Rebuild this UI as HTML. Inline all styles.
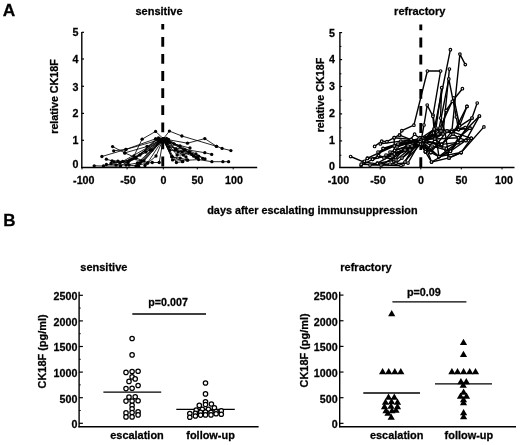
<!DOCTYPE html><html><head><meta charset="utf-8"><style>html,body{margin:0;padding:0;background:#fff;}svg{display:block;will-change:transform;}text{font-family:"Liberation Sans", sans-serif;font-weight:bold;fill:#000;stroke:#000;stroke-width:0.26px;}</style></head><body>
<svg width="520" height="445" viewBox="0 0 520 445">
<rect width="520" height="445" fill="#fff"/>
<text x="2.8" y="16.3" font-size="17.3" text-anchor="start" >A</text>
<text x="3.2" y="225.8" font-size="17.0" text-anchor="start" >B</text>
<text x="159" y="15.0" font-size="11" text-anchor="middle" >sensitive</text>
<text x="419.8" y="15.0" font-size="11" text-anchor="middle" >refractory</text>
<text x="312.4" y="213.6" font-size="10.85" text-anchor="middle" >days after escalating immunsuppression</text>
<line x1="81.8" y1="32" x2="81.8" y2="167.9" stroke="#000" stroke-width="1.4" />
<line x1="81.8" y1="32.3" x2="84.0" y2="32.3" stroke="#000" stroke-width="1.2" />
<line x1="81.8" y1="59" x2="84.0" y2="59" stroke="#000" stroke-width="1.2" />
<line x1="81.8" y1="86.3" x2="84.0" y2="86.3" stroke="#000" stroke-width="1.2" />
<line x1="81.8" y1="113.4" x2="84.0" y2="113.4" stroke="#000" stroke-width="1.2" />
<line x1="81.8" y1="140.3" x2="84.0" y2="140.3" stroke="#000" stroke-width="1.2" />
<text x="78.4" y="35.9" font-size="10.7" text-anchor="end" >5</text>
<text x="78.4" y="62.8" font-size="10.7" text-anchor="end" >4</text>
<text x="78.4" y="90.5" font-size="10.7" text-anchor="end" >3</text>
<text x="78.4" y="117.30000000000001" font-size="10.7" text-anchor="end" >2</text>
<text x="78.4" y="144.35" font-size="10.7" text-anchor="end" >1</text>
<text x="78.4" y="167.9" font-size="10.7" text-anchor="end" >0</text>
<line x1="81.1" y1="167.5" x2="257.2" y2="167.5" stroke="#000" stroke-width="1.35" />
<line x1="82.0" y1="167.5" x2="82.0" y2="169.4" stroke="#000" stroke-width="1" />
<line x1="127.1" y1="167.5" x2="127.1" y2="169.4" stroke="#000" stroke-width="1" />
<line x1="163.3" y1="167.5" x2="163.3" y2="169.4" stroke="#000" stroke-width="1" />
<line x1="197.3" y1="167.5" x2="197.3" y2="169.4" stroke="#000" stroke-width="1" />
<line x1="233.2" y1="167.5" x2="233.2" y2="169.4" stroke="#000" stroke-width="1" />
<text x="83.8" y="183.6" font-size="10.7" text-anchor="middle" >-100</text>
<text x="128" y="183.6" font-size="10.7" text-anchor="middle" >-50</text>
<text x="163.5" y="183.6" font-size="10.7" text-anchor="middle" >0</text>
<text x="197.5" y="183.6" font-size="10.7" text-anchor="middle" >50</text>
<text x="234" y="183.6" font-size="10.7" text-anchor="middle" >100</text>
<text transform="translate(57.8,96.45) rotate(-90)" font-size="10.75" text-anchor="middle">relative CK18F</text>
<line x1="339.9" y1="32" x2="339.9" y2="167.9" stroke="#000" stroke-width="1.4" />
<line x1="339.9" y1="32.6" x2="342.09999999999997" y2="32.6" stroke="#000" stroke-width="1.2" />
<line x1="339.9" y1="59.6" x2="342.09999999999997" y2="59.6" stroke="#000" stroke-width="1.2" />
<line x1="339.9" y1="86.5" x2="342.09999999999997" y2="86.5" stroke="#000" stroke-width="1.2" />
<line x1="339.9" y1="113.9" x2="342.09999999999997" y2="113.9" stroke="#000" stroke-width="1.2" />
<line x1="339.9" y1="140.9" x2="342.09999999999997" y2="140.9" stroke="#000" stroke-width="1.2" />
<line x1="339.9" y1="46.4" x2="341.4" y2="46.4" stroke="#000" stroke-width="1" />
<line x1="339.9" y1="73.8" x2="341.4" y2="73.8" stroke="#000" stroke-width="1" />
<line x1="339.9" y1="100.2" x2="341.4" y2="100.2" stroke="#000" stroke-width="1" />
<line x1="339.9" y1="127.8" x2="341.4" y2="127.8" stroke="#000" stroke-width="1" />
<line x1="339.9" y1="155.3" x2="341.4" y2="155.3" stroke="#000" stroke-width="1" />
<text x="335.0" y="37.199999999999996" font-size="10.7" text-anchor="end" >5</text>
<text x="335.0" y="63.199999999999996" font-size="10.7" text-anchor="end" >4</text>
<text x="335.0" y="89.5" font-size="10.7" text-anchor="end" >3</text>
<text x="335.0" y="116.60000000000001" font-size="10.7" text-anchor="end" >2</text>
<text x="335.0" y="144.3" font-size="10.7" text-anchor="end" >1</text>
<text x="335.0" y="170.20000000000002" font-size="10.7" text-anchor="end" >0</text>
<line x1="339.2" y1="167.5" x2="514.5" y2="167.5" stroke="#000" stroke-width="1.35" />
<line x1="380.2" y1="167.5" x2="380.2" y2="169.4" stroke="#000" stroke-width="1" />
<line x1="420.8" y1="167.5" x2="420.8" y2="169.4" stroke="#000" stroke-width="1" />
<line x1="461.3" y1="167.5" x2="461.3" y2="169.4" stroke="#000" stroke-width="1" />
<line x1="502" y1="167.5" x2="502" y2="169.4" stroke="#000" stroke-width="1" />
<text x="338.4" y="183.6" font-size="10.7" text-anchor="middle" >-100</text>
<text x="378" y="183.6" font-size="10.7" text-anchor="middle" >-50</text>
<text x="421" y="183.6" font-size="10.7" text-anchor="middle" >0</text>
<text x="461.5" y="183.6" font-size="10.7" text-anchor="middle" >50</text>
<text x="504" y="183.6" font-size="10.7" text-anchor="middle" >100</text>
<text transform="translate(324.3,95.0) rotate(-90)" font-size="10.75" text-anchor="middle">relative CK18F</text>
<line x1="162.75" y1="23.9" x2="162.75" y2="167.5" stroke="#000" stroke-width="2.9" stroke-dasharray="9.8 7.3" stroke-dashoffset="4.10"/>
<line x1="420.8" y1="24.6" x2="420.8" y2="167.5" stroke="#000" stroke-width="2.9" stroke-dasharray="9.8 7.3" stroke-dashoffset="4.10"/>
<polyline points="134.0,156.0 142.1,139.2 155.6,131.4 163.3,138.8 169.4,131.1 181.9,136.0 216.5,146.3 222.1,148.4 230.9,150.6" fill="none" stroke="#000" stroke-width="0.85" stroke-linejoin="round"/>
<polyline points="112.6,146.6 124.8,152.9 147.0,146.5 163.3,138.8 187.5,143.2 204.8,138.6 216.5,146.3" fill="none" stroke="#000" stroke-width="0.85" stroke-linejoin="round"/>
<polyline points="113.7,150.8 125.9,149.4 163.3,138.8 169.0,146.9 204.8,152.7 211.7,154.4" fill="none" stroke="#000" stroke-width="0.85" stroke-linejoin="round"/>
<polyline points="101.9,156.5 125.9,149.4 155.6,138.8 163.3,138.8" fill="none" stroke="#000" stroke-width="0.85" stroke-linejoin="round"/>
<polyline points="106.4,159.2 112.1,160.9 117.9,161.1 122.7,161.4 163.3,138.8 189.1,152.1 198.6,156.1 202.7,158.4" fill="none" stroke="#000" stroke-width="0.85" stroke-linejoin="round"/>
<polyline points="94.2,165.8 103.5,166.0 120.6,166.0 163.3,138.8 176.4,162.5 182.5,161.7" fill="none" stroke="#000" stroke-width="0.85" stroke-linejoin="round"/>
<polyline points="106.4,164.5 129.0,165.1 138.6,166.2 163.3,138.8 172.6,159.9 187.7,160.2 198.6,159.6 211.9,161.7 222.9,161.7 228.6,161.7" fill="none" stroke="#000" stroke-width="0.85" stroke-linejoin="round"/>
<polyline points="124.8,152.9 147.6,163.0 152.3,162.5 159.2,162.5 163.3,138.8" fill="none" stroke="#000" stroke-width="0.85" stroke-linejoin="round"/>
<polyline points="132.2,159.0 141.7,160.9 163.3,138.8 171.7,156.8 180.2,158.1 187.0,159.9" fill="none" stroke="#000" stroke-width="0.85" stroke-linejoin="round"/>
<polyline points="137.6,165.3 147.5,163.0 163.3,138.8 177.1,155.0 183.4,155.0 189.7,152.3" fill="none" stroke="#000" stroke-width="0.85" stroke-linejoin="round"/>
<polyline points="120.0,163.0 136.0,158.0 158.5,138.0 163.3,138.8 166.5,138.5 175.0,150.0 193.7,156.2" fill="none" stroke="#000" stroke-width="0.85" stroke-linejoin="round"/>
<polyline points="128.0,162.0 146.0,152.0 161.5,140.5 168.5,139.5 185.0,150.0 198.0,158.0" fill="none" stroke="#000" stroke-width="0.85" stroke-linejoin="round"/>
<polyline points="116.0,165.0 140.0,155.0 155.8,138.8 163.3,140.5 172.1,156.4 182.8,161.4" fill="none" stroke="#000" stroke-width="0.85" stroke-linejoin="round"/>
<polyline points="140.0,163.0 152.0,150.0 163.3,138.8 180.0,146.0 196.0,154.0 205.0,159.0" fill="none" stroke="#000" stroke-width="0.85" stroke-linejoin="round"/>
<polyline points="145.0,165.5 156.0,156.0 163.3,138.8 170.0,150.0 182.0,152.0" fill="none" stroke="#000" stroke-width="0.85" stroke-linejoin="round"/>
<polyline points="111.0,163.5 130.0,160.0 150.0,150.0 163.3,138.8 174.0,144.0 190.0,148.0" fill="none" stroke="#000" stroke-width="0.85" stroke-linejoin="round"/>
<polyline points="114.0,162.0 128.0,162.5 163.3,138.8" fill="none" stroke="#000" stroke-width="0.85" stroke-linejoin="round"/>
<polyline points="126.0,165.0 137.5,163.0 163.3,138.8" fill="none" stroke="#000" stroke-width="0.85" stroke-linejoin="round"/>
<polyline points="136.0,166.0 144.0,161.0 163.3,138.8" fill="none" stroke="#000" stroke-width="0.85" stroke-linejoin="round"/>
<polyline points="160.5,139.2 165.5,139.8 168.0,141.0 184.0,150.0 196.0,157.5" fill="none" stroke="#000" stroke-width="0.85" stroke-linejoin="round"/>
<polyline points="158.0,140.5 166.0,141.5 169.5,142.5 178.0,152.0 186.0,157.0" fill="none" stroke="#000" stroke-width="0.85" stroke-linejoin="round"/>
<polyline points="161.0,142.0 167.0,143.5 176.0,149.0 192.0,154.5" fill="none" stroke="#000" stroke-width="0.85" stroke-linejoin="round"/>
<circle cx="134.0" cy="156.0" r="1.65" fill="#000"/>
<circle cx="142.1" cy="139.2" r="1.65" fill="#000"/>
<circle cx="155.6" cy="131.4" r="1.65" fill="#000"/>
<circle cx="163.3" cy="138.8" r="1.65" fill="#000"/>
<circle cx="169.4" cy="131.1" r="1.65" fill="#000"/>
<circle cx="181.9" cy="136.0" r="1.65" fill="#000"/>
<circle cx="216.5" cy="146.3" r="1.65" fill="#000"/>
<circle cx="222.1" cy="148.4" r="1.65" fill="#000"/>
<circle cx="230.9" cy="150.6" r="1.65" fill="#000"/>
<circle cx="112.6" cy="146.6" r="1.65" fill="#000"/>
<circle cx="124.8" cy="152.9" r="1.65" fill="#000"/>
<circle cx="147.0" cy="146.5" r="1.65" fill="#000"/>
<circle cx="163.3" cy="138.8" r="1.65" fill="#000"/>
<circle cx="187.5" cy="143.2" r="1.65" fill="#000"/>
<circle cx="204.8" cy="138.6" r="1.65" fill="#000"/>
<circle cx="216.5" cy="146.3" r="1.65" fill="#000"/>
<circle cx="113.7" cy="150.8" r="1.65" fill="#000"/>
<circle cx="125.9" cy="149.4" r="1.65" fill="#000"/>
<circle cx="163.3" cy="138.8" r="1.65" fill="#000"/>
<circle cx="169.0" cy="146.9" r="1.65" fill="#000"/>
<circle cx="204.8" cy="152.7" r="1.65" fill="#000"/>
<circle cx="211.7" cy="154.4" r="1.65" fill="#000"/>
<circle cx="101.9" cy="156.5" r="1.65" fill="#000"/>
<circle cx="125.9" cy="149.4" r="1.65" fill="#000"/>
<circle cx="155.6" cy="138.8" r="1.65" fill="#000"/>
<circle cx="163.3" cy="138.8" r="1.65" fill="#000"/>
<circle cx="106.4" cy="159.2" r="1.65" fill="#000"/>
<circle cx="112.1" cy="160.9" r="1.65" fill="#000"/>
<circle cx="117.9" cy="161.1" r="1.65" fill="#000"/>
<circle cx="122.7" cy="161.4" r="1.65" fill="#000"/>
<circle cx="163.3" cy="138.8" r="1.65" fill="#000"/>
<circle cx="189.1" cy="152.1" r="1.65" fill="#000"/>
<circle cx="198.6" cy="156.1" r="1.65" fill="#000"/>
<circle cx="202.7" cy="158.4" r="1.65" fill="#000"/>
<circle cx="94.2" cy="165.8" r="1.65" fill="#000"/>
<circle cx="103.5" cy="166.0" r="1.65" fill="#000"/>
<circle cx="120.6" cy="166.0" r="1.65" fill="#000"/>
<circle cx="163.3" cy="138.8" r="1.65" fill="#000"/>
<circle cx="176.4" cy="162.5" r="1.65" fill="#000"/>
<circle cx="182.5" cy="161.7" r="1.65" fill="#000"/>
<circle cx="106.4" cy="164.5" r="1.65" fill="#000"/>
<circle cx="129.0" cy="165.1" r="1.65" fill="#000"/>
<circle cx="138.6" cy="166.2" r="1.65" fill="#000"/>
<circle cx="163.3" cy="138.8" r="1.65" fill="#000"/>
<circle cx="172.6" cy="159.9" r="1.65" fill="#000"/>
<circle cx="187.7" cy="160.2" r="1.65" fill="#000"/>
<circle cx="198.6" cy="159.6" r="1.65" fill="#000"/>
<circle cx="211.9" cy="161.7" r="1.65" fill="#000"/>
<circle cx="222.9" cy="161.7" r="1.65" fill="#000"/>
<circle cx="228.6" cy="161.7" r="1.65" fill="#000"/>
<circle cx="124.8" cy="152.9" r="1.65" fill="#000"/>
<circle cx="147.6" cy="163.0" r="1.65" fill="#000"/>
<circle cx="152.3" cy="162.5" r="1.65" fill="#000"/>
<circle cx="159.2" cy="162.5" r="1.65" fill="#000"/>
<circle cx="163.3" cy="138.8" r="1.65" fill="#000"/>
<circle cx="132.2" cy="159.0" r="1.65" fill="#000"/>
<circle cx="141.7" cy="160.9" r="1.65" fill="#000"/>
<circle cx="163.3" cy="138.8" r="1.65" fill="#000"/>
<circle cx="171.7" cy="156.8" r="1.65" fill="#000"/>
<circle cx="180.2" cy="158.1" r="1.65" fill="#000"/>
<circle cx="187.0" cy="159.9" r="1.65" fill="#000"/>
<circle cx="137.6" cy="165.3" r="1.65" fill="#000"/>
<circle cx="147.5" cy="163.0" r="1.65" fill="#000"/>
<circle cx="163.3" cy="138.8" r="1.65" fill="#000"/>
<circle cx="177.1" cy="155.0" r="1.65" fill="#000"/>
<circle cx="183.4" cy="155.0" r="1.65" fill="#000"/>
<circle cx="189.7" cy="152.3" r="1.65" fill="#000"/>
<circle cx="120.0" cy="163.0" r="1.65" fill="#000"/>
<circle cx="136.0" cy="158.0" r="1.65" fill="#000"/>
<circle cx="158.5" cy="138.0" r="1.65" fill="#000"/>
<circle cx="163.3" cy="138.8" r="1.65" fill="#000"/>
<circle cx="166.5" cy="138.5" r="1.65" fill="#000"/>
<circle cx="175.0" cy="150.0" r="1.65" fill="#000"/>
<circle cx="193.7" cy="156.2" r="1.65" fill="#000"/>
<circle cx="128.0" cy="162.0" r="1.65" fill="#000"/>
<circle cx="146.0" cy="152.0" r="1.65" fill="#000"/>
<circle cx="161.5" cy="140.5" r="1.65" fill="#000"/>
<circle cx="168.5" cy="139.5" r="1.65" fill="#000"/>
<circle cx="185.0" cy="150.0" r="1.65" fill="#000"/>
<circle cx="198.0" cy="158.0" r="1.65" fill="#000"/>
<circle cx="116.0" cy="165.0" r="1.65" fill="#000"/>
<circle cx="140.0" cy="155.0" r="1.65" fill="#000"/>
<circle cx="155.8" cy="138.8" r="1.65" fill="#000"/>
<circle cx="163.3" cy="140.5" r="1.65" fill="#000"/>
<circle cx="172.1" cy="156.4" r="1.65" fill="#000"/>
<circle cx="182.8" cy="161.4" r="1.65" fill="#000"/>
<circle cx="140.0" cy="163.0" r="1.65" fill="#000"/>
<circle cx="152.0" cy="150.0" r="1.65" fill="#000"/>
<circle cx="163.3" cy="138.8" r="1.65" fill="#000"/>
<circle cx="180.0" cy="146.0" r="1.65" fill="#000"/>
<circle cx="196.0" cy="154.0" r="1.65" fill="#000"/>
<circle cx="205.0" cy="159.0" r="1.65" fill="#000"/>
<circle cx="145.0" cy="165.5" r="1.65" fill="#000"/>
<circle cx="156.0" cy="156.0" r="1.65" fill="#000"/>
<circle cx="163.3" cy="138.8" r="1.65" fill="#000"/>
<circle cx="170.0" cy="150.0" r="1.65" fill="#000"/>
<circle cx="182.0" cy="152.0" r="1.65" fill="#000"/>
<circle cx="111.0" cy="163.5" r="1.65" fill="#000"/>
<circle cx="130.0" cy="160.0" r="1.65" fill="#000"/>
<circle cx="150.0" cy="150.0" r="1.65" fill="#000"/>
<circle cx="163.3" cy="138.8" r="1.65" fill="#000"/>
<circle cx="174.0" cy="144.0" r="1.65" fill="#000"/>
<circle cx="190.0" cy="148.0" r="1.65" fill="#000"/>
<circle cx="114.0" cy="162.0" r="1.65" fill="#000"/>
<circle cx="128.0" cy="162.5" r="1.65" fill="#000"/>
<circle cx="163.3" cy="138.8" r="1.65" fill="#000"/>
<circle cx="126.0" cy="165.0" r="1.65" fill="#000"/>
<circle cx="137.5" cy="163.0" r="1.65" fill="#000"/>
<circle cx="163.3" cy="138.8" r="1.65" fill="#000"/>
<circle cx="136.0" cy="166.0" r="1.65" fill="#000"/>
<circle cx="144.0" cy="161.0" r="1.65" fill="#000"/>
<circle cx="163.3" cy="138.8" r="1.65" fill="#000"/>
<circle cx="160.5" cy="139.2" r="1.65" fill="#000"/>
<circle cx="165.5" cy="139.8" r="1.65" fill="#000"/>
<circle cx="168.0" cy="141.0" r="1.65" fill="#000"/>
<circle cx="184.0" cy="150.0" r="1.65" fill="#000"/>
<circle cx="196.0" cy="157.5" r="1.65" fill="#000"/>
<circle cx="158.0" cy="140.5" r="1.65" fill="#000"/>
<circle cx="166.0" cy="141.5" r="1.65" fill="#000"/>
<circle cx="169.5" cy="142.5" r="1.65" fill="#000"/>
<circle cx="178.0" cy="152.0" r="1.65" fill="#000"/>
<circle cx="186.0" cy="157.0" r="1.65" fill="#000"/>
<circle cx="161.0" cy="142.0" r="1.65" fill="#000"/>
<circle cx="167.0" cy="143.5" r="1.65" fill="#000"/>
<circle cx="176.0" cy="149.0" r="1.65" fill="#000"/>
<circle cx="192.0" cy="154.5" r="1.65" fill="#000"/>
<polyline points="350.6,156.5 363.4,161.9 382.2,164.6 419.5,141.3 425.4,151.8 431.5,162.0 449.0,157.9 461.2,152.5 483.9,126.9" fill="none" stroke="#000" stroke-width="1.4" stroke-linejoin="round"/>
<polyline points="374.6,146.4 381.7,141.2 386.9,141.7 394.2,137.7 399.7,134.9 401.8,130.7 413.9,125.2 427.4,71.0 440.6,71.0 433.1,115.0 438.9,156.6" fill="none" stroke="#000" stroke-width="1.4" stroke-linejoin="round"/>
<polyline points="364.4,161.3 367.5,158.2 394.2,146.0 420.1,141.7 433.5,133.0 450.4,49.7" fill="none" stroke="#000" stroke-width="1.4" stroke-linejoin="round"/>
<polyline points="361.1,165.5 372.6,159.3 377.4,156.9 383.2,148.7 421.4,138.0 452.0,130.0 459.9,54.1 465.3,64.6" fill="none" stroke="#000" stroke-width="1.4" stroke-linejoin="round"/>
<polyline points="377.4,163.2 394.3,154.0 418.4,143.4 430.8,152.5 438.9,156.6 450.4,151.2 465.9,140.4 479.4,116.1" fill="none" stroke="#000" stroke-width="1.4" stroke-linejoin="round"/>
<polyline points="380.3,143.9 400.8,141.1 419.6,139.1 436.0,128.0 441.7,87.7 440.5,118.0 445.0,132.0 449.0,157.9" fill="none" stroke="#000" stroke-width="1.4" stroke-linejoin="round"/>
<polyline points="383.1,148.4 411.1,139.4 423.3,140.8 438.0,134.0 448.8,78.9 456.3,117.0 458.5,129.6 465.2,127.5" fill="none" stroke="#000" stroke-width="1.4" stroke-linejoin="round"/>
<polyline points="393.8,161.5 414.6,134.2 422.5,140.8 441.0,131.0 446.2,110.4 452.3,101.3 462.4,88.7" fill="none" stroke="#000" stroke-width="1.4" stroke-linejoin="round"/>
<polyline points="386.0,155.0 405.0,150.0 421.5,138.6 424.0,125.0 427.2,105.1 432.9,116.3 434.9,139.0 441.6,144.4 457.8,142.4 471.3,138.3" fill="none" stroke="#000" stroke-width="1.4" stroke-linejoin="round"/>
<polyline points="390.0,152.0 408.0,146.0 421.5,143.6 434.2,128.9 447.0,130.9 458.5,137.7 470.0,128.2" fill="none" stroke="#000" stroke-width="1.4" stroke-linejoin="round"/>
<polyline points="394.6,150.4 420.9,142.7 443.0,134.0 449.4,69.0" fill="none" stroke="#000" stroke-width="1.4" stroke-linejoin="round"/>
<polyline points="397.0,147.0 421.7,137.9 451.7,131.6 472.0,118.1 477.2,103.0" fill="none" stroke="#000" stroke-width="1.4" stroke-linejoin="round"/>
<polyline points="396.0,163.3 422.1,141.6 441.6,144.4 453.0,134.0 467.0,106.4" fill="none" stroke="#000" stroke-width="1.4" stroke-linejoin="round"/>
<polyline points="403.0,164.6 419.8,137.7 444.0,148.0 457.8,142.4 472.0,118.1" fill="none" stroke="#000" stroke-width="1.4" stroke-linejoin="round"/>
<polyline points="378.0,152.0 398.0,144.0 422.6,140.8 432.0,146.0 450.4,151.2 458.5,137.7 465.9,140.4" fill="none" stroke="#000" stroke-width="1.4" stroke-linejoin="round"/>
<polyline points="367.3,158.4 392.0,156.0 421.9,143.7 438.9,156.6 461.2,152.5 471.3,138.3" fill="none" stroke="#000" stroke-width="1.4" stroke-linejoin="round"/>
<polyline points="399.5,135.1 421.9,143.9 440.0,128.0 453.8,97.9 459.6,125.7 466.9,106.4" fill="none" stroke="#000" stroke-width="1.4" stroke-linejoin="round"/>
<polyline points="372.6,159.3 410.0,150.0 420.3,143.1 430.8,152.5 447.0,130.9 465.2,127.5" fill="none" stroke="#000" stroke-width="1.4" stroke-linejoin="round"/>
<polyline points="361.2,164.2 381.0,165.0 401.0,165.5 420.5,144.0 425.4,151.8 441.6,144.4 451.7,131.6 458.5,129.6" fill="none" stroke="#000" stroke-width="1.4" stroke-linejoin="round"/>
<polyline points="402.0,158.0 422.7,138.2 431.5,162.0 450.4,151.2 457.8,142.4" fill="none" stroke="#000" stroke-width="1.4" stroke-linejoin="round"/>
<polyline points="405.0,162.0 419.0,139.0 434.9,139.0 447.0,130.9 470.0,128.2" fill="none" stroke="#000" stroke-width="1.4" stroke-linejoin="round"/>
<polyline points="378.6,155.6 394.2,159.7 394.2,137.7 423.1,140.6 434.2,128.9 451.7,131.6 471.3,138.3" fill="none" stroke="#000" stroke-width="1.4" stroke-linejoin="round"/>
<polyline points="370.0,165.0 390.0,164.0 408.0,163.0 421.4,139.6 441.6,144.4 449.0,157.9 461.2,152.5" fill="none" stroke="#000" stroke-width="1.4" stroke-linejoin="round"/>
<polyline points="377.3,163.4 396.0,160.0 420.8,140.2 438.9,156.6 457.8,142.4 465.9,140.4" fill="none" stroke="#000" stroke-width="1.4" stroke-linejoin="round"/>
<polyline points="384.0,158.0 412.0,146.0 420.1,141.6 425.4,151.8 434.9,139.0 458.5,137.7 479.4,116.1" fill="none" stroke="#000" stroke-width="1.4" stroke-linejoin="round"/>
<circle cx="350.6" cy="156.5" r="1.3" fill="#fff" stroke="#000" stroke-width="1.15"/>
<circle cx="363.4" cy="161.9" r="1.3" fill="#fff" stroke="#000" stroke-width="1.15"/>
<circle cx="382.2" cy="164.6" r="1.3" fill="#fff" stroke="#000" stroke-width="1.15"/>
<circle cx="419.5" cy="141.3" r="1.3" fill="#fff" stroke="#000" stroke-width="1.15"/>
<circle cx="425.4" cy="151.8" r="1.3" fill="#fff" stroke="#000" stroke-width="1.15"/>
<circle cx="431.5" cy="162.0" r="1.3" fill="#fff" stroke="#000" stroke-width="1.15"/>
<circle cx="449.0" cy="157.9" r="1.3" fill="#fff" stroke="#000" stroke-width="1.15"/>
<circle cx="461.2" cy="152.5" r="1.3" fill="#fff" stroke="#000" stroke-width="1.15"/>
<circle cx="483.9" cy="126.9" r="1.3" fill="#fff" stroke="#000" stroke-width="1.15"/>
<circle cx="374.6" cy="146.4" r="1.3" fill="#fff" stroke="#000" stroke-width="1.15"/>
<circle cx="381.7" cy="141.2" r="1.3" fill="#fff" stroke="#000" stroke-width="1.15"/>
<circle cx="386.9" cy="141.7" r="1.3" fill="#fff" stroke="#000" stroke-width="1.15"/>
<circle cx="394.2" cy="137.7" r="1.3" fill="#fff" stroke="#000" stroke-width="1.15"/>
<circle cx="399.7" cy="134.9" r="1.3" fill="#fff" stroke="#000" stroke-width="1.15"/>
<circle cx="401.8" cy="130.7" r="1.3" fill="#fff" stroke="#000" stroke-width="1.15"/>
<circle cx="413.9" cy="125.2" r="1.3" fill="#fff" stroke="#000" stroke-width="1.15"/>
<circle cx="427.4" cy="71.0" r="1.3" fill="#fff" stroke="#000" stroke-width="1.15"/>
<circle cx="440.6" cy="71.0" r="1.3" fill="#fff" stroke="#000" stroke-width="1.15"/>
<circle cx="433.1" cy="115.0" r="1.3" fill="#fff" stroke="#000" stroke-width="1.15"/>
<circle cx="438.9" cy="156.6" r="1.3" fill="#fff" stroke="#000" stroke-width="1.15"/>
<circle cx="364.4" cy="161.3" r="1.3" fill="#fff" stroke="#000" stroke-width="1.15"/>
<circle cx="367.5" cy="158.2" r="1.3" fill="#fff" stroke="#000" stroke-width="1.15"/>
<circle cx="394.2" cy="146.0" r="1.3" fill="#fff" stroke="#000" stroke-width="1.15"/>
<circle cx="420.1" cy="141.7" r="1.3" fill="#fff" stroke="#000" stroke-width="1.15"/>
<circle cx="433.5" cy="133.0" r="1.3" fill="#fff" stroke="#000" stroke-width="1.15"/>
<circle cx="450.4" cy="49.7" r="1.3" fill="#fff" stroke="#000" stroke-width="1.15"/>
<circle cx="361.1" cy="165.5" r="1.3" fill="#fff" stroke="#000" stroke-width="1.15"/>
<circle cx="372.6" cy="159.3" r="1.3" fill="#fff" stroke="#000" stroke-width="1.15"/>
<circle cx="377.4" cy="156.9" r="1.3" fill="#fff" stroke="#000" stroke-width="1.15"/>
<circle cx="383.2" cy="148.7" r="1.3" fill="#fff" stroke="#000" stroke-width="1.15"/>
<circle cx="421.4" cy="138.0" r="1.3" fill="#fff" stroke="#000" stroke-width="1.15"/>
<circle cx="452.0" cy="130.0" r="1.3" fill="#fff" stroke="#000" stroke-width="1.15"/>
<circle cx="459.9" cy="54.1" r="1.3" fill="#fff" stroke="#000" stroke-width="1.15"/>
<circle cx="465.3" cy="64.6" r="1.3" fill="#fff" stroke="#000" stroke-width="1.15"/>
<circle cx="377.4" cy="163.2" r="1.3" fill="#fff" stroke="#000" stroke-width="1.15"/>
<circle cx="394.3" cy="154.0" r="1.3" fill="#fff" stroke="#000" stroke-width="1.15"/>
<circle cx="418.4" cy="143.4" r="1.3" fill="#fff" stroke="#000" stroke-width="1.15"/>
<circle cx="430.8" cy="152.5" r="1.3" fill="#fff" stroke="#000" stroke-width="1.15"/>
<circle cx="438.9" cy="156.6" r="1.3" fill="#fff" stroke="#000" stroke-width="1.15"/>
<circle cx="450.4" cy="151.2" r="1.3" fill="#fff" stroke="#000" stroke-width="1.15"/>
<circle cx="465.9" cy="140.4" r="1.3" fill="#fff" stroke="#000" stroke-width="1.15"/>
<circle cx="479.4" cy="116.1" r="1.3" fill="#fff" stroke="#000" stroke-width="1.15"/>
<circle cx="380.3" cy="143.9" r="1.3" fill="#fff" stroke="#000" stroke-width="1.15"/>
<circle cx="400.8" cy="141.1" r="1.3" fill="#fff" stroke="#000" stroke-width="1.15"/>
<circle cx="419.6" cy="139.1" r="1.3" fill="#fff" stroke="#000" stroke-width="1.15"/>
<circle cx="436.0" cy="128.0" r="1.3" fill="#fff" stroke="#000" stroke-width="1.15"/>
<circle cx="441.7" cy="87.7" r="1.3" fill="#fff" stroke="#000" stroke-width="1.15"/>
<circle cx="440.5" cy="118.0" r="1.3" fill="#fff" stroke="#000" stroke-width="1.15"/>
<circle cx="445.0" cy="132.0" r="1.3" fill="#fff" stroke="#000" stroke-width="1.15"/>
<circle cx="449.0" cy="157.9" r="1.3" fill="#fff" stroke="#000" stroke-width="1.15"/>
<circle cx="383.1" cy="148.4" r="1.3" fill="#fff" stroke="#000" stroke-width="1.15"/>
<circle cx="411.1" cy="139.4" r="1.3" fill="#fff" stroke="#000" stroke-width="1.15"/>
<circle cx="423.3" cy="140.8" r="1.3" fill="#fff" stroke="#000" stroke-width="1.15"/>
<circle cx="438.0" cy="134.0" r="1.3" fill="#fff" stroke="#000" stroke-width="1.15"/>
<circle cx="448.8" cy="78.9" r="1.3" fill="#fff" stroke="#000" stroke-width="1.15"/>
<circle cx="456.3" cy="117.0" r="1.3" fill="#fff" stroke="#000" stroke-width="1.15"/>
<circle cx="458.5" cy="129.6" r="1.3" fill="#fff" stroke="#000" stroke-width="1.15"/>
<circle cx="465.2" cy="127.5" r="1.3" fill="#fff" stroke="#000" stroke-width="1.15"/>
<circle cx="393.8" cy="161.5" r="1.3" fill="#fff" stroke="#000" stroke-width="1.15"/>
<circle cx="414.6" cy="134.2" r="1.3" fill="#fff" stroke="#000" stroke-width="1.15"/>
<circle cx="422.5" cy="140.8" r="1.3" fill="#fff" stroke="#000" stroke-width="1.15"/>
<circle cx="441.0" cy="131.0" r="1.3" fill="#fff" stroke="#000" stroke-width="1.15"/>
<circle cx="446.2" cy="110.4" r="1.3" fill="#fff" stroke="#000" stroke-width="1.15"/>
<circle cx="452.3" cy="101.3" r="1.3" fill="#fff" stroke="#000" stroke-width="1.15"/>
<circle cx="462.4" cy="88.7" r="1.3" fill="#fff" stroke="#000" stroke-width="1.15"/>
<circle cx="386.0" cy="155.0" r="1.3" fill="#fff" stroke="#000" stroke-width="1.15"/>
<circle cx="405.0" cy="150.0" r="1.3" fill="#fff" stroke="#000" stroke-width="1.15"/>
<circle cx="421.5" cy="138.6" r="1.3" fill="#fff" stroke="#000" stroke-width="1.15"/>
<circle cx="424.0" cy="125.0" r="1.3" fill="#fff" stroke="#000" stroke-width="1.15"/>
<circle cx="427.2" cy="105.1" r="1.3" fill="#fff" stroke="#000" stroke-width="1.15"/>
<circle cx="432.9" cy="116.3" r="1.3" fill="#fff" stroke="#000" stroke-width="1.15"/>
<circle cx="434.9" cy="139.0" r="1.3" fill="#fff" stroke="#000" stroke-width="1.15"/>
<circle cx="441.6" cy="144.4" r="1.3" fill="#fff" stroke="#000" stroke-width="1.15"/>
<circle cx="457.8" cy="142.4" r="1.3" fill="#fff" stroke="#000" stroke-width="1.15"/>
<circle cx="471.3" cy="138.3" r="1.3" fill="#fff" stroke="#000" stroke-width="1.15"/>
<circle cx="390.0" cy="152.0" r="1.3" fill="#fff" stroke="#000" stroke-width="1.15"/>
<circle cx="408.0" cy="146.0" r="1.3" fill="#fff" stroke="#000" stroke-width="1.15"/>
<circle cx="421.5" cy="143.6" r="1.3" fill="#fff" stroke="#000" stroke-width="1.15"/>
<circle cx="434.2" cy="128.9" r="1.3" fill="#fff" stroke="#000" stroke-width="1.15"/>
<circle cx="447.0" cy="130.9" r="1.3" fill="#fff" stroke="#000" stroke-width="1.15"/>
<circle cx="458.5" cy="137.7" r="1.3" fill="#fff" stroke="#000" stroke-width="1.15"/>
<circle cx="470.0" cy="128.2" r="1.3" fill="#fff" stroke="#000" stroke-width="1.15"/>
<circle cx="394.6" cy="150.4" r="1.3" fill="#fff" stroke="#000" stroke-width="1.15"/>
<circle cx="420.9" cy="142.7" r="1.3" fill="#fff" stroke="#000" stroke-width="1.15"/>
<circle cx="443.0" cy="134.0" r="1.3" fill="#fff" stroke="#000" stroke-width="1.15"/>
<circle cx="449.4" cy="69.0" r="1.3" fill="#fff" stroke="#000" stroke-width="1.15"/>
<circle cx="397.0" cy="147.0" r="1.3" fill="#fff" stroke="#000" stroke-width="1.15"/>
<circle cx="421.7" cy="137.9" r="1.3" fill="#fff" stroke="#000" stroke-width="1.15"/>
<circle cx="451.7" cy="131.6" r="1.3" fill="#fff" stroke="#000" stroke-width="1.15"/>
<circle cx="472.0" cy="118.1" r="1.3" fill="#fff" stroke="#000" stroke-width="1.15"/>
<circle cx="477.2" cy="103.0" r="1.3" fill="#fff" stroke="#000" stroke-width="1.15"/>
<circle cx="396.0" cy="163.3" r="1.3" fill="#fff" stroke="#000" stroke-width="1.15"/>
<circle cx="422.1" cy="141.6" r="1.3" fill="#fff" stroke="#000" stroke-width="1.15"/>
<circle cx="441.6" cy="144.4" r="1.3" fill="#fff" stroke="#000" stroke-width="1.15"/>
<circle cx="453.0" cy="134.0" r="1.3" fill="#fff" stroke="#000" stroke-width="1.15"/>
<circle cx="467.0" cy="106.4" r="1.3" fill="#fff" stroke="#000" stroke-width="1.15"/>
<circle cx="403.0" cy="164.6" r="1.3" fill="#fff" stroke="#000" stroke-width="1.15"/>
<circle cx="419.8" cy="137.7" r="1.3" fill="#fff" stroke="#000" stroke-width="1.15"/>
<circle cx="444.0" cy="148.0" r="1.3" fill="#fff" stroke="#000" stroke-width="1.15"/>
<circle cx="457.8" cy="142.4" r="1.3" fill="#fff" stroke="#000" stroke-width="1.15"/>
<circle cx="472.0" cy="118.1" r="1.3" fill="#fff" stroke="#000" stroke-width="1.15"/>
<circle cx="378.0" cy="152.0" r="1.3" fill="#fff" stroke="#000" stroke-width="1.15"/>
<circle cx="398.0" cy="144.0" r="1.3" fill="#fff" stroke="#000" stroke-width="1.15"/>
<circle cx="422.6" cy="140.8" r="1.3" fill="#fff" stroke="#000" stroke-width="1.15"/>
<circle cx="432.0" cy="146.0" r="1.3" fill="#fff" stroke="#000" stroke-width="1.15"/>
<circle cx="450.4" cy="151.2" r="1.3" fill="#fff" stroke="#000" stroke-width="1.15"/>
<circle cx="458.5" cy="137.7" r="1.3" fill="#fff" stroke="#000" stroke-width="1.15"/>
<circle cx="465.9" cy="140.4" r="1.3" fill="#fff" stroke="#000" stroke-width="1.15"/>
<circle cx="367.3" cy="158.4" r="1.3" fill="#fff" stroke="#000" stroke-width="1.15"/>
<circle cx="392.0" cy="156.0" r="1.3" fill="#fff" stroke="#000" stroke-width="1.15"/>
<circle cx="421.9" cy="143.7" r="1.3" fill="#fff" stroke="#000" stroke-width="1.15"/>
<circle cx="438.9" cy="156.6" r="1.3" fill="#fff" stroke="#000" stroke-width="1.15"/>
<circle cx="461.2" cy="152.5" r="1.3" fill="#fff" stroke="#000" stroke-width="1.15"/>
<circle cx="471.3" cy="138.3" r="1.3" fill="#fff" stroke="#000" stroke-width="1.15"/>
<circle cx="399.5" cy="135.1" r="1.3" fill="#fff" stroke="#000" stroke-width="1.15"/>
<circle cx="421.9" cy="143.9" r="1.3" fill="#fff" stroke="#000" stroke-width="1.15"/>
<circle cx="440.0" cy="128.0" r="1.3" fill="#fff" stroke="#000" stroke-width="1.15"/>
<circle cx="453.8" cy="97.9" r="1.3" fill="#fff" stroke="#000" stroke-width="1.15"/>
<circle cx="459.6" cy="125.7" r="1.3" fill="#fff" stroke="#000" stroke-width="1.15"/>
<circle cx="466.9" cy="106.4" r="1.3" fill="#fff" stroke="#000" stroke-width="1.15"/>
<circle cx="372.6" cy="159.3" r="1.3" fill="#fff" stroke="#000" stroke-width="1.15"/>
<circle cx="410.0" cy="150.0" r="1.3" fill="#fff" stroke="#000" stroke-width="1.15"/>
<circle cx="420.3" cy="143.1" r="1.3" fill="#fff" stroke="#000" stroke-width="1.15"/>
<circle cx="430.8" cy="152.5" r="1.3" fill="#fff" stroke="#000" stroke-width="1.15"/>
<circle cx="447.0" cy="130.9" r="1.3" fill="#fff" stroke="#000" stroke-width="1.15"/>
<circle cx="465.2" cy="127.5" r="1.3" fill="#fff" stroke="#000" stroke-width="1.15"/>
<circle cx="361.2" cy="164.2" r="1.3" fill="#fff" stroke="#000" stroke-width="1.15"/>
<circle cx="381.0" cy="165.0" r="1.3" fill="#fff" stroke="#000" stroke-width="1.15"/>
<circle cx="401.0" cy="165.5" r="1.3" fill="#fff" stroke="#000" stroke-width="1.15"/>
<circle cx="420.5" cy="144.0" r="1.3" fill="#fff" stroke="#000" stroke-width="1.15"/>
<circle cx="425.4" cy="151.8" r="1.3" fill="#fff" stroke="#000" stroke-width="1.15"/>
<circle cx="441.6" cy="144.4" r="1.3" fill="#fff" stroke="#000" stroke-width="1.15"/>
<circle cx="451.7" cy="131.6" r="1.3" fill="#fff" stroke="#000" stroke-width="1.15"/>
<circle cx="458.5" cy="129.6" r="1.3" fill="#fff" stroke="#000" stroke-width="1.15"/>
<circle cx="402.0" cy="158.0" r="1.3" fill="#fff" stroke="#000" stroke-width="1.15"/>
<circle cx="422.7" cy="138.2" r="1.3" fill="#fff" stroke="#000" stroke-width="1.15"/>
<circle cx="431.5" cy="162.0" r="1.3" fill="#fff" stroke="#000" stroke-width="1.15"/>
<circle cx="450.4" cy="151.2" r="1.3" fill="#fff" stroke="#000" stroke-width="1.15"/>
<circle cx="457.8" cy="142.4" r="1.3" fill="#fff" stroke="#000" stroke-width="1.15"/>
<circle cx="405.0" cy="162.0" r="1.3" fill="#fff" stroke="#000" stroke-width="1.15"/>
<circle cx="419.0" cy="139.0" r="1.3" fill="#fff" stroke="#000" stroke-width="1.15"/>
<circle cx="434.9" cy="139.0" r="1.3" fill="#fff" stroke="#000" stroke-width="1.15"/>
<circle cx="447.0" cy="130.9" r="1.3" fill="#fff" stroke="#000" stroke-width="1.15"/>
<circle cx="470.0" cy="128.2" r="1.3" fill="#fff" stroke="#000" stroke-width="1.15"/>
<circle cx="378.6" cy="155.6" r="1.3" fill="#fff" stroke="#000" stroke-width="1.15"/>
<circle cx="394.2" cy="159.7" r="1.3" fill="#fff" stroke="#000" stroke-width="1.15"/>
<circle cx="394.2" cy="137.7" r="1.3" fill="#fff" stroke="#000" stroke-width="1.15"/>
<circle cx="423.1" cy="140.6" r="1.3" fill="#fff" stroke="#000" stroke-width="1.15"/>
<circle cx="434.2" cy="128.9" r="1.3" fill="#fff" stroke="#000" stroke-width="1.15"/>
<circle cx="451.7" cy="131.6" r="1.3" fill="#fff" stroke="#000" stroke-width="1.15"/>
<circle cx="471.3" cy="138.3" r="1.3" fill="#fff" stroke="#000" stroke-width="1.15"/>
<circle cx="370.0" cy="165.0" r="1.3" fill="#fff" stroke="#000" stroke-width="1.15"/>
<circle cx="390.0" cy="164.0" r="1.3" fill="#fff" stroke="#000" stroke-width="1.15"/>
<circle cx="408.0" cy="163.0" r="1.3" fill="#fff" stroke="#000" stroke-width="1.15"/>
<circle cx="421.4" cy="139.6" r="1.3" fill="#fff" stroke="#000" stroke-width="1.15"/>
<circle cx="441.6" cy="144.4" r="1.3" fill="#fff" stroke="#000" stroke-width="1.15"/>
<circle cx="449.0" cy="157.9" r="1.3" fill="#fff" stroke="#000" stroke-width="1.15"/>
<circle cx="461.2" cy="152.5" r="1.3" fill="#fff" stroke="#000" stroke-width="1.15"/>
<circle cx="377.3" cy="163.4" r="1.3" fill="#fff" stroke="#000" stroke-width="1.15"/>
<circle cx="396.0" cy="160.0" r="1.3" fill="#fff" stroke="#000" stroke-width="1.15"/>
<circle cx="420.8" cy="140.2" r="1.3" fill="#fff" stroke="#000" stroke-width="1.15"/>
<circle cx="438.9" cy="156.6" r="1.3" fill="#fff" stroke="#000" stroke-width="1.15"/>
<circle cx="457.8" cy="142.4" r="1.3" fill="#fff" stroke="#000" stroke-width="1.15"/>
<circle cx="465.9" cy="140.4" r="1.3" fill="#fff" stroke="#000" stroke-width="1.15"/>
<circle cx="384.0" cy="158.0" r="1.3" fill="#fff" stroke="#000" stroke-width="1.15"/>
<circle cx="412.0" cy="146.0" r="1.3" fill="#fff" stroke="#000" stroke-width="1.15"/>
<circle cx="420.1" cy="141.6" r="1.3" fill="#fff" stroke="#000" stroke-width="1.15"/>
<circle cx="425.4" cy="151.8" r="1.3" fill="#fff" stroke="#000" stroke-width="1.15"/>
<circle cx="434.9" cy="139.0" r="1.3" fill="#fff" stroke="#000" stroke-width="1.15"/>
<circle cx="458.5" cy="137.7" r="1.3" fill="#fff" stroke="#000" stroke-width="1.15"/>
<circle cx="479.4" cy="116.1" r="1.3" fill="#fff" stroke="#000" stroke-width="1.15"/>
<text x="80.3" y="271" font-size="11" text-anchor="start" >sensitive</text>
<text x="340.3" y="270.6" font-size="11" text-anchor="start" >refractory</text>
<line x1="79.1" y1="291.8" x2="79.1" y2="427.2" stroke="#000" stroke-width="1.4" />
<line x1="79.1" y1="295.3" x2="82.89999999999999" y2="295.3" stroke="#000" stroke-width="1.2" />
<text x="77.4" y="300.1" font-size="10.7" text-anchor="end" >2500</text>
<line x1="79.1" y1="320.90000000000003" x2="82.89999999999999" y2="320.90000000000003" stroke="#000" stroke-width="1.2" />
<text x="77.4" y="325.70000000000005" font-size="10.7" text-anchor="end" >2000</text>
<line x1="79.1" y1="346.5" x2="82.89999999999999" y2="346.5" stroke="#000" stroke-width="1.2" />
<text x="77.4" y="351.3" font-size="10.7" text-anchor="end" >1500</text>
<line x1="79.1" y1="372.1" x2="82.89999999999999" y2="372.1" stroke="#000" stroke-width="1.2" />
<text x="77.4" y="376.90000000000003" font-size="10.7" text-anchor="end" >1000</text>
<line x1="79.1" y1="397.70000000000005" x2="82.89999999999999" y2="397.70000000000005" stroke="#000" stroke-width="1.2" />
<text x="77.4" y="402.50000000000006" font-size="10.7" text-anchor="end" >500</text>
<line x1="79.1" y1="423.3" x2="82.89999999999999" y2="423.3" stroke="#000" stroke-width="1.2" />
<text x="77.4" y="428.1" font-size="10.7" text-anchor="end" >0</text>
<line x1="79.1" y1="308.1" x2="80.69999999999999" y2="308.1" stroke="#000" stroke-width="1" />
<line x1="79.1" y1="333.70000000000005" x2="80.69999999999999" y2="333.70000000000005" stroke="#000" stroke-width="1" />
<line x1="79.1" y1="359.3" x2="80.69999999999999" y2="359.3" stroke="#000" stroke-width="1" />
<line x1="79.1" y1="384.90000000000003" x2="80.69999999999999" y2="384.90000000000003" stroke="#000" stroke-width="1" />
<line x1="79.1" y1="410.50000000000006" x2="80.69999999999999" y2="410.50000000000006" stroke="#000" stroke-width="1" />
<line x1="78.39999999999999" y1="426.7" x2="258.6" y2="426.7" stroke="#000" stroke-width="1.5" />
<text transform="translate(46.2,351.4) rotate(-90)" font-size="10.95" text-anchor="middle">CK18F (pg/ml)</text>
<line x1="339.7" y1="291.8" x2="339.7" y2="427.2" stroke="#000" stroke-width="1.4" />
<line x1="339.7" y1="295.1" x2="343.5" y2="295.1" stroke="#000" stroke-width="1.2" />
<text x="337.6" y="299.90000000000003" font-size="10.7" text-anchor="end" >2500</text>
<line x1="339.7" y1="320.75" x2="343.5" y2="320.75" stroke="#000" stroke-width="1.2" />
<text x="337.6" y="325.55" font-size="10.7" text-anchor="end" >2000</text>
<line x1="339.7" y1="346.40000000000003" x2="343.5" y2="346.40000000000003" stroke="#000" stroke-width="1.2" />
<text x="337.6" y="351.20000000000005" font-size="10.7" text-anchor="end" >1500</text>
<line x1="339.7" y1="372.05" x2="343.5" y2="372.05" stroke="#000" stroke-width="1.2" />
<text x="337.6" y="376.85" font-size="10.7" text-anchor="end" >1000</text>
<line x1="339.7" y1="397.70000000000005" x2="343.5" y2="397.70000000000005" stroke="#000" stroke-width="1.2" />
<text x="337.6" y="402.50000000000006" font-size="10.7" text-anchor="end" >500</text>
<line x1="339.7" y1="423.35" x2="343.5" y2="423.35" stroke="#000" stroke-width="1.2" />
<text x="337.6" y="428.15000000000003" font-size="10.7" text-anchor="end" >0</text>
<line x1="339.0" y1="426.7" x2="516.0" y2="426.7" stroke="#000" stroke-width="1.5" />
<text transform="translate(307.7,350.4) rotate(-90)" font-size="10.95" text-anchor="middle">CK18F (pg/ml)</text>
<text x="137.0" y="439.4" font-size="10.95" text-anchor="middle" >escalation</text>
<text x="210.6" y="439.4" font-size="10.95" text-anchor="middle" >follow-up</text>
<text x="396.7" y="438.8" font-size="10.95" text-anchor="middle" >escalation</text>
<text x="468.9" y="438.8" font-size="10.95" text-anchor="middle" >follow-up</text>
<line x1="132.3" y1="314.0" x2="206.0" y2="314.0" stroke="#000" stroke-width="1.3" />
<text x="168.1" y="306.3" font-size="10.7" text-anchor="middle" >p=0.007</text>
<line x1="392.4" y1="301.8" x2="466.4" y2="301.8" stroke="#000" stroke-width="1.3" />
<text x="423.9" y="295.9" font-size="10.8" text-anchor="middle" >p=0.09</text>
<line x1="103.4" y1="392.2" x2="161.2" y2="392.2" stroke="#000" stroke-width="1.3" />
<line x1="176.3" y1="409.4" x2="234.8" y2="409.4" stroke="#000" stroke-width="1.3" />
<line x1="363.3" y1="393.0" x2="420.0" y2="393.0" stroke="#000" stroke-width="1.3" />
<line x1="435.0" y1="383.8" x2="492.0" y2="383.8" stroke="#000" stroke-width="1.3" />
<circle cx="132.1" cy="338.5" r="2.2" fill="#fff" stroke="#000" stroke-width="1.25"/>
<circle cx="132.1" cy="354.9" r="2.2" fill="#fff" stroke="#000" stroke-width="1.25"/>
<circle cx="126.0" cy="372.4" r="2.2" fill="#fff" stroke="#000" stroke-width="1.25"/>
<circle cx="132.1" cy="371.5" r="2.2" fill="#fff" stroke="#000" stroke-width="1.25"/>
<circle cx="138.1" cy="371.3" r="2.2" fill="#fff" stroke="#000" stroke-width="1.25"/>
<circle cx="132.1" cy="376.9" r="2.2" fill="#fff" stroke="#000" stroke-width="1.25"/>
<circle cx="135.2" cy="378.9" r="2.2" fill="#fff" stroke="#000" stroke-width="1.25"/>
<circle cx="129.0" cy="381.4" r="2.2" fill="#fff" stroke="#000" stroke-width="1.25"/>
<circle cx="126.0" cy="388.6" r="2.2" fill="#fff" stroke="#000" stroke-width="1.25"/>
<circle cx="132.1" cy="388.3" r="2.2" fill="#fff" stroke="#000" stroke-width="1.25"/>
<circle cx="138.1" cy="385.5" r="2.2" fill="#fff" stroke="#000" stroke-width="1.25"/>
<circle cx="129.0" cy="397.1" r="2.2" fill="#fff" stroke="#000" stroke-width="1.25"/>
<circle cx="135.2" cy="396.7" r="2.2" fill="#fff" stroke="#000" stroke-width="1.25"/>
<circle cx="126.0" cy="401.1" r="2.2" fill="#fff" stroke="#000" stroke-width="1.25"/>
<circle cx="132.1" cy="401.1" r="2.2" fill="#fff" stroke="#000" stroke-width="1.25"/>
<circle cx="138.1" cy="400.7" r="2.2" fill="#fff" stroke="#000" stroke-width="1.25"/>
<circle cx="132.1" cy="405.2" r="2.2" fill="#fff" stroke="#000" stroke-width="1.25"/>
<circle cx="132.1" cy="408.8" r="2.2" fill="#fff" stroke="#000" stroke-width="1.25"/>
<circle cx="126.0" cy="412.9" r="2.2" fill="#fff" stroke="#000" stroke-width="1.25"/>
<circle cx="132.1" cy="412.5" r="2.2" fill="#fff" stroke="#000" stroke-width="1.25"/>
<circle cx="138.1" cy="411.9" r="2.2" fill="#fff" stroke="#000" stroke-width="1.25"/>
<circle cx="126.0" cy="416.9" r="2.2" fill="#fff" stroke="#000" stroke-width="1.25"/>
<circle cx="132.1" cy="416.9" r="2.2" fill="#fff" stroke="#000" stroke-width="1.25"/>
<circle cx="138.1" cy="414.9" r="2.2" fill="#fff" stroke="#000" stroke-width="1.25"/>
<circle cx="205.5" cy="383.0" r="2.2" fill="#fff" stroke="#000" stroke-width="1.25"/>
<circle cx="205.5" cy="393.9" r="2.2" fill="#fff" stroke="#000" stroke-width="1.25"/>
<circle cx="205.5" cy="401.7" r="2.2" fill="#fff" stroke="#000" stroke-width="1.25"/>
<circle cx="205.5" cy="404.5" r="2.2" fill="#fff" stroke="#000" stroke-width="1.25"/>
<circle cx="199.3" cy="405.4" r="2.2" fill="#fff" stroke="#000" stroke-width="1.25"/>
<circle cx="211.4" cy="404.0" r="2.2" fill="#fff" stroke="#000" stroke-width="1.25"/>
<circle cx="196.2" cy="410.1" r="2.2" fill="#fff" stroke="#000" stroke-width="1.25"/>
<circle cx="202.3" cy="409.2" r="2.2" fill="#fff" stroke="#000" stroke-width="1.25"/>
<circle cx="208.4" cy="409.2" r="2.2" fill="#fff" stroke="#000" stroke-width="1.25"/>
<circle cx="214.4" cy="407.7" r="2.2" fill="#fff" stroke="#000" stroke-width="1.25"/>
<circle cx="189.8" cy="413.5" r="2.2" fill="#fff" stroke="#000" stroke-width="1.25"/>
<circle cx="195.4" cy="413.2" r="2.2" fill="#fff" stroke="#000" stroke-width="1.25"/>
<circle cx="200.6" cy="412.3" r="2.2" fill="#fff" stroke="#000" stroke-width="1.25"/>
<circle cx="205.5" cy="412.1" r="2.2" fill="#fff" stroke="#000" stroke-width="1.25"/>
<circle cx="211.0" cy="412.3" r="2.2" fill="#fff" stroke="#000" stroke-width="1.25"/>
<circle cx="216.1" cy="411.5" r="2.2" fill="#fff" stroke="#000" stroke-width="1.25"/>
<circle cx="221.3" cy="410.8" r="2.2" fill="#fff" stroke="#000" stroke-width="1.25"/>
<circle cx="189.8" cy="417.2" r="2.2" fill="#fff" stroke="#000" stroke-width="1.25"/>
<circle cx="195.4" cy="416.0" r="2.2" fill="#fff" stroke="#000" stroke-width="1.25"/>
<circle cx="200.6" cy="415.1" r="2.2" fill="#fff" stroke="#000" stroke-width="1.25"/>
<circle cx="205.5" cy="414.9" r="2.2" fill="#fff" stroke="#000" stroke-width="1.25"/>
<circle cx="211.0" cy="414.9" r="2.2" fill="#fff" stroke="#000" stroke-width="1.25"/>
<circle cx="216.1" cy="413.8" r="2.2" fill="#fff" stroke="#000" stroke-width="1.25"/>
<circle cx="221.3" cy="414.2" r="2.2" fill="#fff" stroke="#000" stroke-width="1.25"/>
<path d="M391.7,310.0 L395.3,316.2 L388.1,316.2 Z" fill="#000"/>
<path d="M382.6,368.1 L386.2,374.3 L379.0,374.3 Z" fill="#000"/>
<path d="M388.7,368.1 L392.3,374.3 L385.1,374.3 Z" fill="#000"/>
<path d="M394.8,368.1 L398.4,374.3 L391.2,374.3 Z" fill="#000"/>
<path d="M400.8,368.1 L404.4,374.3 L397.2,374.3 Z" fill="#000"/>
<path d="M388.5,393.5 L392.1,399.7 L384.9,399.7 Z" fill="#000"/>
<path d="M394.3,393.5 L397.9,399.7 L390.7,399.7 Z" fill="#000"/>
<path d="M385.5,398.5 L389.1,404.7 L381.9,404.7 Z" fill="#000"/>
<path d="M391.5,398.0 L395.1,404.2 L387.9,404.2 Z" fill="#000"/>
<path d="M397.5,398.5 L401.1,404.7 L393.9,404.7 Z" fill="#000"/>
<path d="M384.5,403.0 L388.1,409.2 L380.9,409.2 Z" fill="#000"/>
<path d="M391.0,402.5 L394.6,408.7 L387.4,408.7 Z" fill="#000"/>
<path d="M397.5,403.0 L401.1,409.2 L393.9,409.2 Z" fill="#000"/>
<path d="M386.0,407.0 L389.6,413.2 L382.4,413.2 Z" fill="#000"/>
<path d="M392.0,407.0 L395.6,413.2 L388.4,413.2 Z" fill="#000"/>
<path d="M396.0,406.5 L399.6,412.7 L392.4,412.7 Z" fill="#000"/>
<path d="M388.0,409.5 L391.6,415.7 L384.4,415.7 Z" fill="#000"/>
<path d="M391.2,413.5 L394.8,419.7 L387.6,419.7 Z" fill="#000"/>
<path d="M463.5,338.7 L467.1,344.9 L459.9,344.9 Z" fill="#000"/>
<path d="M463.5,350.8 L467.1,357.0 L459.9,357.0 Z" fill="#000"/>
<path d="M451.9,368.1 L455.5,374.3 L448.3,374.3 Z" fill="#000"/>
<path d="M457.5,368.1 L461.1,374.3 L453.9,374.3 Z" fill="#000"/>
<path d="M463.6,368.1 L467.2,374.3 L460.0,374.3 Z" fill="#000"/>
<path d="M469.7,368.1 L473.3,374.3 L466.1,374.3 Z" fill="#000"/>
<path d="M475.5,368.1 L479.1,374.3 L471.9,374.3 Z" fill="#000"/>
<path d="M460.9,378.0 L464.5,384.2 L457.3,384.2 Z" fill="#000"/>
<path d="M466.3,378.0 L469.9,384.2 L462.7,384.2 Z" fill="#000"/>
<path d="M463.2,381.5 L466.8,387.7 L459.6,387.7 Z" fill="#000"/>
<path d="M463.6,388.5 L467.2,394.7 L460.0,394.7 Z" fill="#000"/>
<path d="M460.5,392.5 L464.1,398.7 L456.9,398.7 Z" fill="#000"/>
<path d="M466.5,392.5 L470.1,398.7 L462.9,398.7 Z" fill="#000"/>
<path d="M463.5,396.0 L467.1,402.2 L459.9,402.2 Z" fill="#000"/>
<path d="M463.5,399.0 L467.1,405.2 L459.9,405.2 Z" fill="#000"/>
<path d="M463.6,409.0 L467.2,415.2 L460.0,415.2 Z" fill="#000"/>
<path d="M463.6,413.0 L467.2,419.2 L460.0,419.2 Z" fill="#000"/>
</svg></body></html>
